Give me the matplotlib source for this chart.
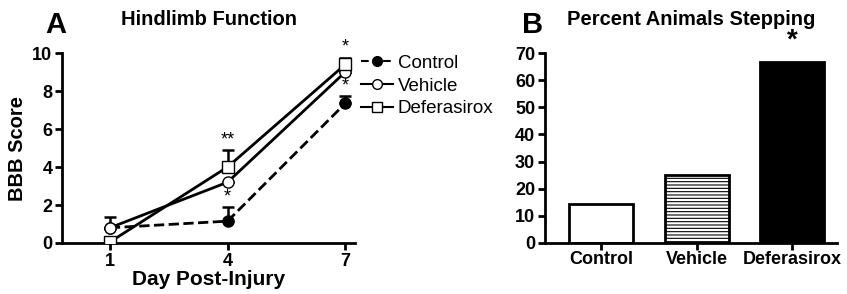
import numpy as np
import matplotlib.pyplot as plt
from matplotlib.lines import Line2D

plt.rcParams['font.family'] = ['Liberation Sans', 'DejaVu Sans']
plt.rcParams['hatch.linewidth'] = 0.8

# Panel A: hindlimb function (BBB score)
days = [1, 4, 7]
control = [0.8, 1.15, 7.35]
control_err = [0.0, 0.75, 0.4]
vehicle = [0.8, 3.2, 9.0]
vehicle_err = [0.55, 0.0, 0.0]
deferasirox = [0.05, 4.0, 9.4]
deferasirox_err = [0.0, 0.9, 0.35]

# Panel B: percent animals stepping
groups = ['Control', 'Vehicle', 'Deferasirox']
percent = [14.5, 25.0, 66.7]

fig = plt.figure(figsize=(8.47, 2.94), dpi=100)

# ---- Panel A ----
ax1 = fig.add_axes([0.0732, 0.1735, 0.346, 0.646])
kw = dict(color='black', lw=2, ms=8, capsize=4, capthick=1.8, elinewidth=1.8)
zeros = [0, 0, 0]
ax1.errorbar(days, control, yerr=[zeros, control_err], marker='o', ls='--',
             mfc='black', zorder=3, **kw)
ax1.errorbar(days, vehicle, yerr=[zeros, vehicle_err], marker='o', ls='-',
             mfc='white', zorder=4, **kw)
ax1.errorbar(days, deferasirox, yerr=[zeros, deferasirox_err], marker='s', ls='-',
             mfc='white', zorder=5, **kw)

ax1.set_xlim(-0.22, 7.25)
ax1.set_ylim(0, 10)
ax1.set_xticks(days)
ax1.set_yticks([0, 2, 4, 6, 8, 10])
for s in ['top', 'right']:
    ax1.spines[s].set_visible(False)
for s in ['left', 'bottom']:
    ax1.spines[s].set_linewidth(2)
ax1.tick_params(width=2, length=5, labelsize=13, pad=2)
for lab in ax1.get_xticklabels() + ax1.get_yticklabels():
    lab.set_fontweight('bold')
ax1.set_xlabel('Day Post-Injury', fontsize=15, fontweight='bold', labelpad=0)
ax1.set_ylabel('BBB Score', fontsize=14.5, fontweight='bold', labelpad=4)
ax1.set_title('Hindlimb Function', fontsize=14.5, fontweight='bold', pad=20)

# significance marks
ax1.text(7, 9.85, '*', ha='center', va='bottom', fontsize=13)
ax1.text(7, 7.8, '*', ha='center', va='bottom', fontsize=13)
ax1.text(4, 4.95, '**', ha='center', va='bottom', fontsize=13)
ax1.text(4, 1.95, '*', ha='center', va='bottom', fontsize=13)

handles = [
    Line2D([], [], color='black', lw=1.5, ls='--', marker='o', ms=7, mfc='black'),
    Line2D([], [], color='black', lw=1.5, ls='-', marker='o', ms=7, mfc='white'),
    Line2D([], [], color='black', lw=1.5, ls='-', marker='s', ms=7, mfc='white'),
]
ax1.legend(handles, groups, loc='upper left', bbox_to_anchor=(0.995, 1.03),
           frameon=False, fontsize=13.5, handlelength=1.7, handletextpad=0.25,
           labelspacing=0.3, borderaxespad=0)

fig.text(0.066, 0.915, 'A', fontsize=21, fontweight='bold', ha='center', va='center')

# ---- Panel B ----
ax2 = fig.add_axes([0.6434, 0.1735, 0.3447, 0.646])
x = np.arange(len(groups))
bars = ax2.bar(x, percent, width=0.67, color=['white', 'white', 'black'],
               edgecolor='black', linewidth=2)
bars[1].set_hatch('-----')

ax2.set_xlim(-0.585, 2.465)
ax2.set_ylim(0, 70)
ax2.set_xticks(x)
ax2.set_xticklabels(groups)
ax2.set_yticks(np.arange(0, 71, 10))
for s in ['top', 'right']:
    ax2.spines[s].set_visible(False)
for s in ['left', 'bottom']:
    ax2.spines[s].set_linewidth(2)
ax2.tick_params(width=2, length=5, labelsize=13, pad=2)
ax2.tick_params(axis='x', labelsize=13, pad=1)
for lab in ax2.get_xticklabels() + ax2.get_yticklabels():
    lab.set_fontweight('bold')
ax2.set_title('Percent Animals Stepping', fontsize=14.5, fontweight='bold', pad=20)
ax2.text(2, 74.5, '*', ha='center', va='center', fontsize=20, fontweight='bold')

fig.text(0.629, 0.915, 'B', fontsize=21, fontweight='bold', ha='center', va='center')

fig.savefig('out.png', dpi=100)
